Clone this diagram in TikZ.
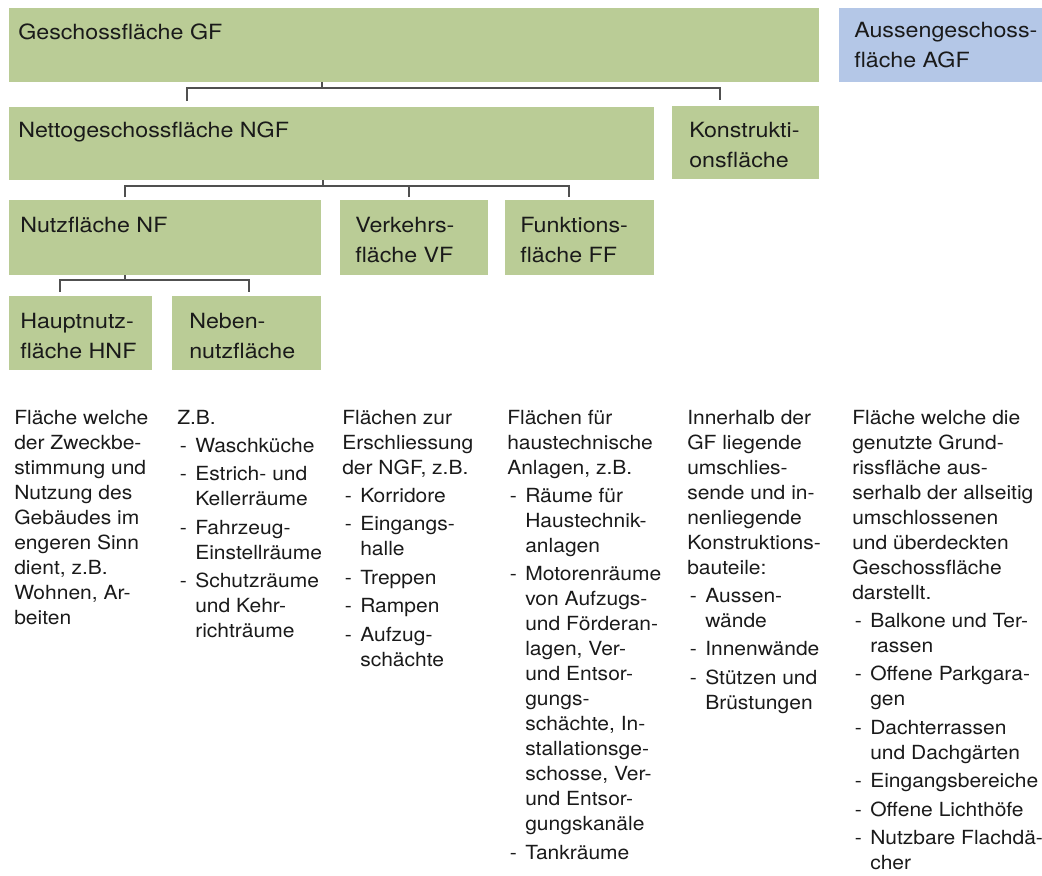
\documentclass[tikz,border=0pt]{standalone}
\usepackage{fontspec}
\setmainfont[FakeStretch=1.08]{TeX Gyre Heros}
\newfontfamily\areafamily[FakeStretch=1.11]{TeX Gyre Heros}
\usetikzlibrary{calc,fit}
\definecolor{areagreen}{RGB}{186,204,150}
\definecolor{areablue}{RGB}{180,199,231}
\definecolor{linegray}{RGB}{80,80,80}
\definecolor{textdark}{RGB}{26,26,26}
\newcommand{\dashitem}{\makebox[13.5pt][l]{\hspace{2pt}-}}
\newcommand{\dashcont}{\hspace*{13.5pt}}
\newcommand{\textlines}[1]{\begin{tabular}[t]{@{}l@{}}#1\end{tabular}}

\begin{document}
\begin{tikzpicture}[
 x=.75pt,y=-.75pt,
 area/.style={inner sep=0pt,outer sep=0pt,fill=areagreen},
 outer/.style={area,fill=areablue},
 areatext/.style={anchor=base west,inner sep=0pt,text=textdark,
  font=\areafamily\fontsize{15.7pt}{22.5pt}\selectfont},
 desc/.style={anchor=base west,inner sep=0pt,text=textdark,
  font=\fontsize{14.6pt}{18.75pt}\selectfont},
 conn/.style={draw=linegray,line width=1pt}]
 \useasboundingbox (0,0) rectangle (1042,875);
 % Area boxes.
 \node[area,fit={(9,8)(819,82)}] (gf) {};
 \node[outer,fit={(839,8)(1042,82)}] (agf) {};
 \node[area,fit={(9,107)(654,180)}] (ngf) {};
 \node[area,fit={(672,106)(819,179)}] (kf) {};
 \node[area,fit={(9,200)(321,275)}] (nf) {};
 \node[area,fit={(340,200)(488,275)}] (vf) {};
 \node[area,fit={(505,200)(654,275)}] (ff) {};
 \node[area,fit={(9,296)(152,370)}] (hnf) {};
 \node[area,fit={(172,296)(321,370)}] (nnf) {};
 % Box labels.
 \node[areatext] (gft) at ($(gf.north west)+(9,31)$) {Geschossfläche GF};
 \node[areatext] (agft) at ($(agf.north west)+(15,29)$) {\textlines{Aussengeschoss-\\fläche AGF}};
 \node[areatext] (ngft) at ($(ngf.north west)+(9,30)$) {Nettogeschossfläche NGF};
 \node[areatext] (kft) at ($(kf.north west)+(17,31)$) {\textlines{Konstrukti-\\onsfläche}};
 \node[areatext] (nft) at ($(nf.north west)+(11,32)$) {Nutzfläche NF};
 \node[areatext] (vft) at ($(vf.north west)+(15,32)$) {\textlines{Verkehrs-\\fläche VF}};
 \node[areatext] (fft) at ($(ff.north west)+(15,32)$) {\textlines{Funktions-\\fläche FF}};
 \node[areatext] (hnft) at ($(hnf.north west)+(11,32)$) {\textlines{Hauptnutz-\\fläche HNF}};
 \node[areatext] (nnft) at ($(nnf.north west)+(17,32)$) {\textlines{Neben-\\nutzfläche}};
 % Brackets between the levels.
 \draw[conn] ($(gf.south west)+(313,0)$) -- ++(0,6);
 \draw[conn] ($(ngf.north west)+(178,-6)$) |- ($(gf.south west)+(313,6)$) -| ($(kf.north west)+(48,-6)$);
 \draw[conn] ($(ngf.south west)+(314,0)$) -- ++(0,6);
 \draw[conn] ($(nf.north west)+(116,-3)$) |- ($(ngf.south west)+(314,6)$) -| ($(ff.north west)+(64,-3)$);
 \draw[conn] ($(vf.north west)+(69,-3)$) -- ($(ngf.south west)+(400,6)$);
 \draw[conn] ($(nf.south west)+(116,0)$) -- ++(0,5);
 \draw[conn] ($(hnf.north west)+(51,-4)$) |- ($(nf.south west)+(116,5)$) -| ($(nnf.north west)+(77,-4)$);
 % Descriptions below.
 \node[desc] (dhnf) at (14,424) {\textlines{Fläche welche\\der Zweckbe-\\stimmung und\\Nutzung des\\Gebäudes im\\engeren Sinn\\dient, z.B.\\Wohnen, Ar-\\beiten}};
 \node[desc] (dnnf) at (177,424) {\textlines{Z.B.\\[2.6pt]\dashitem Waschküche\\[2.6pt]\dashitem Estrich- und\\\dashcont Kellerräume\\[2.6pt]\dashitem Fahrzeug-\\\dashcont Einstellräume\\[2.6pt]\dashitem Schutzräume\\\dashcont und Kehr-\\\dashcont richträume}};
 \node[desc] (dvf) at (342,424) {\textlines{Flächen zur\\Erschliessung\\der NGF, z.B.\\[2.6pt]\dashitem Korridore\\[2.6pt]\dashitem Eingangs-\\\dashcont halle\\[2.6pt]\dashitem Treppen\\[2.6pt]\dashitem Rampen\\[2.6pt]\dashitem Aufzug-\\\dashcont schächte}};
 \node[desc] (dff) at (507,424) {\textlines{Flächen für\\haustechnische\\Anlagen, z.B.\\[2.6pt]\dashitem Räume für\\\dashcont Haustechnik-\\\dashcont anlagen\\[2.6pt]\dashitem Motorenräume\\\dashcont von Aufzugs-\\\dashcont und Förderan-\\\dashcont lagen, Ver-\\\dashcont und Entsor-\\\dashcont gungs-\\\dashcont schächte, In-\\\dashcont stallationsge-\\\dashcont schosse, Ver-\\\dashcont und Entsor-\\\dashcont gungskanäle\\[2.6pt]\dashitem Tankräume}};
 \node[desc] (dkf) at (687,424) {\textlines{Innerhalb der\\GF liegende\\umschlies-\\sende und in-\\nenliegende\\Konstruktions-\\bauteile:\\[2.6pt]\dashitem Aussen-\\\dashcont wände\\[2.6pt]\dashitem Innenwände\\[2.6pt]\dashitem Stützen und\\\dashcont Brüstungen}};
 \node[desc] (dagf) at (852,424) {\textlines{Fläche welche die\\genutzte Grund-\\rissfläche aus-\\serhalb der allseitig\\umschlossenen\\und überdeckten\\Geschossfläche\\darstellt.\\[2.6pt]\dashitem Balkone und Ter-\\\dashcont rassen\\[2.6pt]\dashitem Offene Parkgara-\\\dashcont gen\\[2.6pt]\dashitem Dachterrassen\\\dashcont und Dachgärten\\[2.6pt]\dashitem Eingangsbereiche\\[2.6pt]\dashitem Offene Lichthöfe\\[2.6pt]\dashitem Nutzbare Flachdä-\\\dashcont cher}};
\end{tikzpicture}
\end{document}
